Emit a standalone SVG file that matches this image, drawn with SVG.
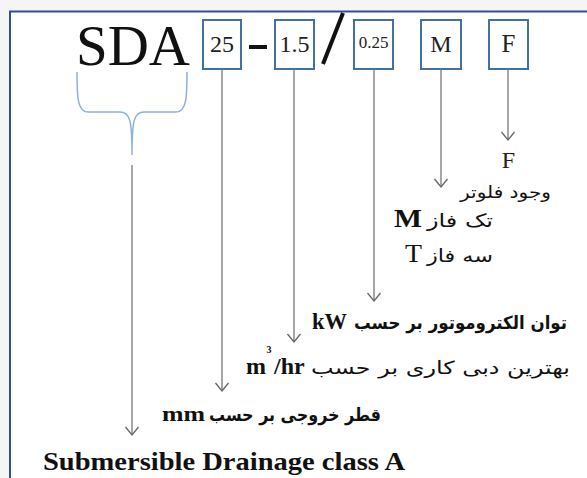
<svg xmlns="http://www.w3.org/2000/svg" width="587" height="478" viewBox="0 0 587 478">
<defs>
<style>
.bx{fill:#fff;stroke:#41719c;stroke-width:2}
.bt{font-family:"Liberation Serif","Times New Roman",serif;fill:#222;text-anchor:middle}
.lt{font-family:"Liberation Serif","Times New Roman",serif;fill:#111}
.ar{font-family:"DejaVu Sans","Noto Sans",sans-serif;fill:#111;text-anchor:end}
.cn{stroke:#777;stroke-width:1.3;fill:none}
</style>
<marker id="ah" markerUnits="userSpaceOnUse" markerWidth="16" markerHeight="16" refX="9" refY="7" orient="auto">
<path d="M1,0.5 L9,7 L1,13.5" fill="none" stroke="#666" stroke-width="1.3"/>
</marker>
</defs>
<rect x="0" y="0" width="587" height="478" fill="#f5f5f5"/>
<rect x="10" y="12" width="577" height="466" fill="#fff"/>
<path d="M10,478 V11.5 H587" fill="none" stroke="#2f4f9a" stroke-width="2"/>

<g id="sda">
<text class="lt" x="76" y="65" font-size="58" textLength="114" lengthAdjust="spacingAndGlyphs">SDA</text>
<path d="M77,72 C77,95 77,112 88,112 L120,112 C130,112 132,120 132,155 C132,120 134,112 144,112 L176,112 C187,112 187,95 187,72" fill="none" stroke="#8fb1dc" stroke-width="1.5"/>
</g>
<g id="box25"><rect class="bx" x="203" y="20" width="38" height="49"/><text class="bt" x="222" y="52" font-size="24">25</text></g>
<g id="dash"><rect x="249" y="45" width="18" height="4" fill="#111"/></g>
<g id="box15"><rect class="bx" x="275" y="20" width="39" height="49"/><text class="bt" x="294.5" y="52" font-size="24">1.5</text></g>
<g id="slash"><line x1="323" y1="64" x2="343" y2="13" stroke="#111" stroke-width="4"/></g>
<g id="box025"><rect class="bx" x="354" y="20" width="39" height="49"/><text class="bt" x="373.5" y="48" font-size="17">0.25</text></g>
<g id="boxM"><rect class="bx" x="421" y="20" width="40" height="49"/><text class="bt" x="441" y="52" font-size="24">M</text></g>
<g id="boxF"><rect class="bx" x="489" y="20" width="39" height="49"/><text class="bt" x="508.5" y="52" font-size="25">F</text></g>

<g id="connectors">
<line class="cn" x1="132" y1="165" x2="132" y2="435" marker-end="url(#ah)"/>
<line class="cn" x1="222" y1="69" x2="222" y2="391" marker-end="url(#ah)"/>
<line class="cn" x1="294" y1="69" x2="294" y2="342" marker-end="url(#ah)"/>
<line class="cn" x1="374" y1="69" x2="374" y2="301" marker-end="url(#ah)"/>
<line class="cn" x1="441" y1="69" x2="441" y2="187" marker-end="url(#ah)"/>
<line class="cn" x1="508" y1="69" x2="508" y2="140" marker-end="url(#ah)"/>
</g>

<g id="label-F">
<text class="bt" x="508.5" y="168" font-size="24">F</text>
<text class="ar" x="551" y="198" font-size="17" textLength="91" lengthAdjust="spacingAndGlyphs">وجود فلوتر</text>
</g>
<g id="label-M">
<text class="lt" x="394" y="227" font-size="26" font-weight="bold" textLength="28" lengthAdjust="spacingAndGlyphs">M</text>
<text class="ar" x="493" y="227" font-size="18" textLength="66" lengthAdjust="spacingAndGlyphs">تک فاز</text>
<text class="lt" x="405" y="262" font-size="26" textLength="17" lengthAdjust="spacingAndGlyphs">T</text>
<text class="ar" x="493" y="262" font-size="18" textLength="66" lengthAdjust="spacingAndGlyphs">سه فاز</text>
</g>
<g id="label-kW">
<text class="lt" x="312" y="329" font-size="23" font-weight="bold" textLength="35" lengthAdjust="spacingAndGlyphs">kW</text>
<text class="ar" x="567" y="329" font-size="18" font-weight="bold" textLength="213" lengthAdjust="spacingAndGlyphs">توان الکتروموتور بر حسب</text>
</g>
<g id="label-flow">
<text class="lt" x="246" y="374" font-size="24" font-weight="bold">m</text>
<text class="lt" x="266.5" y="353" font-size="10" font-weight="bold">3</text>
<text class="lt" x="274" y="374" font-size="24" font-weight="bold">/hr</text>
<text class="ar" x="570" y="374" font-size="18" textLength="259" lengthAdjust="spacingAndGlyphs">بهترین دبی کاری بر حسب</text>
</g>
<g id="label-mm">
<text class="lt" x="162" y="421" font-size="22" font-weight="bold" textLength="43" lengthAdjust="spacingAndGlyphs">mm</text>
<text class="ar" x="381" y="421" font-size="18" font-weight="bold" textLength="172" lengthAdjust="spacingAndGlyphs">قطر خروجی بر حسب</text>
</g>
<g id="label-class">
<text class="lt" x="43" y="470" font-size="25" font-weight="bold" textLength="362" lengthAdjust="spacingAndGlyphs">Submersible Drainage class A</text>
</g>
</svg>
